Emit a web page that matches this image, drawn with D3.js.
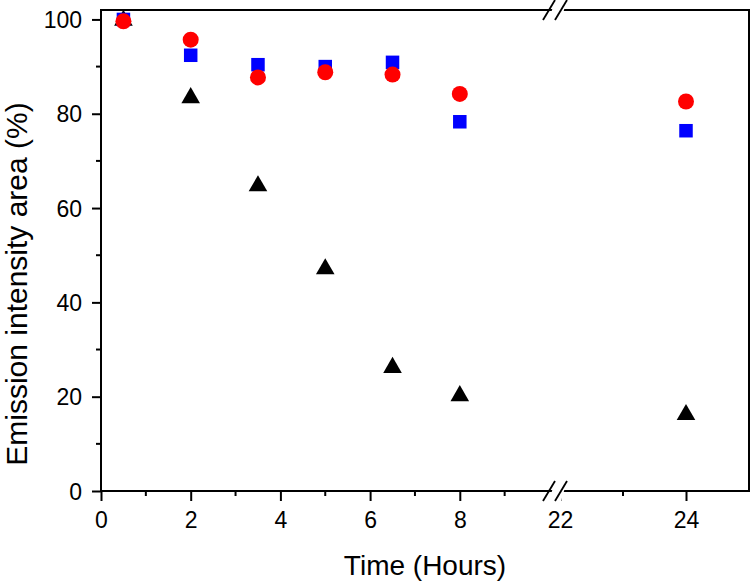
<!DOCTYPE html>
<html>
<head>
<meta charset="utf-8">
<script src="https://cdn.jsdelivr.net/npm/d3@7"></script>
<style>
html,body{margin:0;padding:0;background:#fff;}
svg{display:block;font-family:"Liberation Sans",Arial,sans-serif;}
</style>
</head>
<body>
<svg id="chart" width="750" height="581"></svg>
<script>
// Data
const times = [0.5, 2, 3.5, 5, 6.5, 8, 24];
const redCircles = [99.6, 95.7, 87.7, 88.8, 88.3, 84.2, 82.6];
const blueSquares = [100, 92.4, 90.4, 90.0, 90.9, 78.3, 76.4];
const blackTriangles = [100, 83.6, 64.9, 47.3, 26.4, 20.4, 16.4];
const xMajorTicks = [0, 2, 4, 6, 8, 22, 24];
const xMinorTicks = [1, 3, 5, 7, 9, 23];
const yMajorTicks = [0, 20, 40, 60, 80, 100];
const yMinorTicks = [10, 30, 50, 70, 90];
const xLabel = "Time (Hours)";
const yLabel = "Emission intensity area (%)";

const svg = d3.select("#chart");
const L = 101, R = 749, T = 10, B = 491;
const breakX = 555;

// Broken x scale: two linear pieces
const x = d3.scaleLinear().domain([0, 10, 21.9, 25]).range([L, 549.5, 553.7, R]);
const y = d3.scaleLinear().domain([0, 102]).range([B, T]);

// frame
svg.append("rect").attr("x", L).attr("y", T).attr("width", R - L).attr("height", B - T)
  .attr("fill", "none").attr("stroke", "#000").attr("stroke-width", 2);

// axes
const xAxis = d3.axisBottom(x).tickValues(xMajorTicks).tickSize(10).tickSizeOuter(0).tickFormat(d3.format("d"));
const gx = svg.append("g").attr("transform", `translate(0,${B})`).call(xAxis);
gx.select(".domain").remove();
gx.selectAll("line").attr("stroke", "#000").attr("stroke-width", 2);
gx.selectAll("text").attr("font-size", 23).attr("fill", "#000").attr("dy", "0").attr("y", 37)
  .attr("font-family", "Liberation Sans, Arial, sans-serif");
svg.append("g").selectAll("line").data(xMinorTicks).join("line")
  .attr("x1", d => x(d)).attr("x2", d => x(d)).attr("y1", B).attr("y2", B + 5)
  .attr("stroke", "#000").attr("stroke-width", 2);

const yAxis = d3.axisLeft(y).tickValues(yMajorTicks).tickSize(9).tickSizeOuter(0);
const gy = svg.append("g").attr("transform", `translate(${L},0)`).call(yAxis);
gy.select(".domain").remove();
gy.selectAll("line").attr("stroke", "#000").attr("stroke-width", 2);
gy.selectAll("text").attr("font-size", 23).attr("fill", "#000").attr("x", -19).attr("dy", "0.35em")
  .attr("font-family", "Liberation Sans, Arial, sans-serif");
svg.append("g").selectAll("line").data(yMinorTicks).join("line")
  .attr("x1", L - 5).attr("x2", L).attr("y1", d => y(d)).attr("y2", d => y(d))
  .attr("stroke", "#000").attr("stroke-width", 2);

// break marks (top and bottom)
[T, B].forEach(yy => {
  svg.append("polygon")
    .attr("points", `${breakX - 6},${yy + 10} ${breakX + 6},${yy + 10} ${breakX + 12},${yy - 10} ${breakX},${yy - 10}`)
    .attr("fill", "#fff");
  [-6, 6].forEach(off => {
    svg.append("line")
      .attr("x1", breakX + off - 6).attr("y1", yy + 10)
      .attr("x2", breakX + off + 6).attr("y2", yy - 10)
      .attr("stroke", "#000").attr("stroke-width", 1.8);
  });
});

// markers
const tri = d3.symbol().type(d3.symbolTriangle).size(150);
svg.append("g").selectAll("path").data(times.map((t, i) => [t, blackTriangles[i]])).join("path")
  .attr("d", tri).attr("transform", d => `translate(${x(d[0])},${y(d[1]) + 1})`).attr("fill", "#000");
svg.append("g").selectAll("rect").data(times.map((t, i) => [t, blueSquares[i]])).join("rect")
  .attr("x", d => x(d[0]) - 6.75).attr("y", d => y(d[1]) - 6.75).attr("width", 13.5).attr("height", 13.5)
  .attr("fill", "#0000ff");
svg.append("g").selectAll("circle").data(times.map((t, i) => [t, redCircles[i]])).join("circle")
  .attr("cx", d => x(d[0])).attr("cy", d => y(d[1])).attr("r", 8).attr("fill", "#ff0000");

// axis titles
svg.append("text").attr("x", (L + R) / 2).attr("y", 575).attr("text-anchor", "middle")
  .attr("font-size", 28).attr("fill", "#000").text(xLabel);
svg.append("text").attr("transform", `translate(27,284) rotate(-90)`).attr("text-anchor", "middle")
  .attr("font-size", 30).attr("fill", "#000").text(yLabel);
</script>
</body>
</html>
